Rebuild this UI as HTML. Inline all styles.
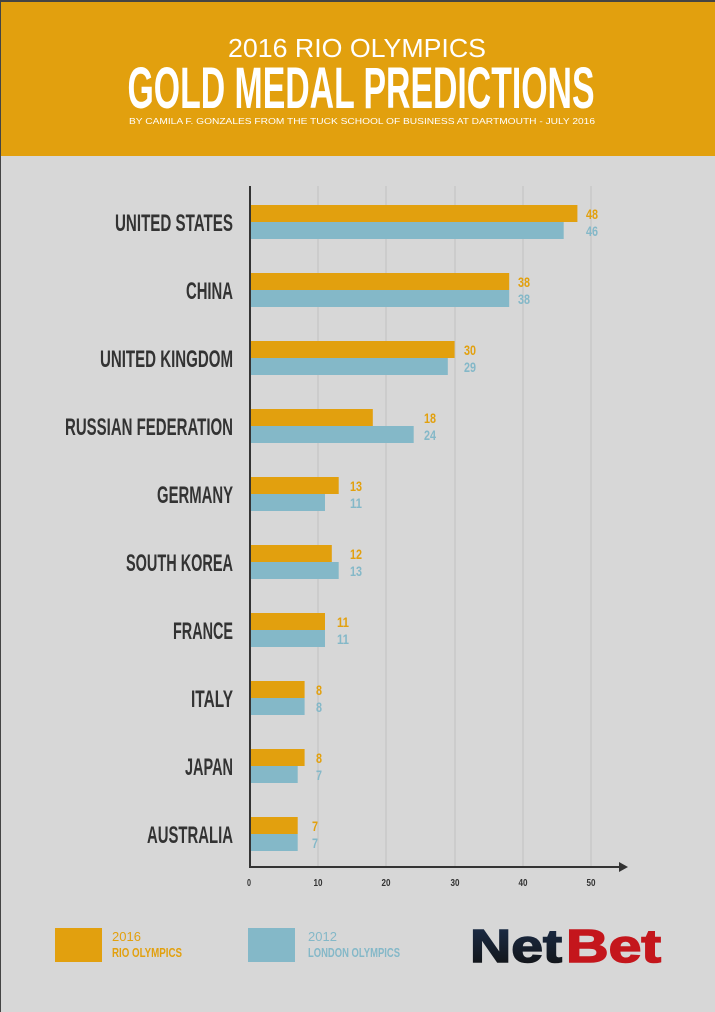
<!DOCTYPE html>
<html><head><meta charset="utf-8"><style>
html,body{margin:0;padding:0;width:715px;height:1012px;overflow:hidden;background:#d7d7d7;}
svg{display:block}
</style></head><body>
<svg width="715" height="1012" xmlns="http://www.w3.org/2000/svg">
<rect width="715" height="1012" fill="#d7d7d7"/>
<rect x="0" y="0" width="715" height="156" fill="#e2a00e"/>
<rect x="0" y="0" width="715" height="2" fill="#444"/>
<rect x="0" y="0" width="1" height="1012" fill="#444"/>
<text x="357" y="57" text-anchor="middle" font-family="Liberation Sans, sans-serif" font-size="26" fill="#fff" textLength="258" lengthAdjust="spacingAndGlyphs">2016 RIO OLYMPICS</text>
<text x="361" y="108" text-anchor="middle" font-family="Liberation Sans Narrow, Liberation Sans, sans-serif" font-weight="bold" font-size="58" fill="#fff" textLength="467" lengthAdjust="spacingAndGlyphs">GOLD MEDAL PREDICTIONS</text>
<text x="362" y="124" text-anchor="middle" font-family="Liberation Sans, sans-serif" font-size="8.5" fill="#fff" textLength="466" lengthAdjust="spacingAndGlyphs">BY CAMILA F. GONZALES FROM THE TUCK SCHOOL OF BUSINESS AT DARTMOUTH - JULY 2016</text>
<g stroke="#c8c8c8" stroke-width="1.5">
<line x1="318" y1="186" x2="318" y2="867"/><line x1="386" y1="186" x2="386" y2="867"/><line x1="455" y1="186" x2="455" y2="867"/><line x1="523" y1="186" x2="523" y2="867"/><line x1="591" y1="186" x2="591" y2="867"/>
</g>
<g font-family="Liberation Sans Narrow, Liberation Sans, sans-serif" font-weight="bold" font-size="24" fill="#333" text-anchor="end">
<text x="233" y="231" textLength="118" lengthAdjust="spacingAndGlyphs">UNITED STATES</text>
<text x="233" y="299" textLength="47" lengthAdjust="spacingAndGlyphs">CHINA</text>
<text x="233" y="367" textLength="133" lengthAdjust="spacingAndGlyphs">UNITED KINGDOM</text>
<text x="233" y="435" textLength="168" lengthAdjust="spacingAndGlyphs">RUSSIAN FEDERATION</text>
<text x="233" y="503" textLength="76" lengthAdjust="spacingAndGlyphs">GERMANY</text>
<text x="233" y="571" textLength="107" lengthAdjust="spacingAndGlyphs">SOUTH KOREA</text>
<text x="233" y="639" textLength="60" lengthAdjust="spacingAndGlyphs">FRANCE</text>
<text x="233" y="707" textLength="42" lengthAdjust="spacingAndGlyphs">ITALY</text>
<text x="233" y="775" textLength="48" lengthAdjust="spacingAndGlyphs">JAPAN</text>
<text x="233" y="843" textLength="86" lengthAdjust="spacingAndGlyphs">AUSTRALIA</text>
</g>
<g font-family="Liberation Sans Narrow, Liberation Sans, sans-serif" font-weight="bold" font-size="14">
<rect x="250" y="205" width="327.4" height="17" fill="#e2a00e"/><rect x="250" y="222" width="313.7" height="17" fill="#84b8c8"/>
<text x="586" y="219" fill="#e2a00e" textLength="12" lengthAdjust="spacingAndGlyphs">48</text><text x="586" y="236" fill="#84b8c8" textLength="12" lengthAdjust="spacingAndGlyphs">46</text>
<rect x="250" y="273" width="259.2" height="17" fill="#e2a00e"/><rect x="250" y="290" width="259.2" height="17" fill="#84b8c8"/>
<text x="518" y="287" fill="#e2a00e" textLength="12" lengthAdjust="spacingAndGlyphs">38</text><text x="518" y="304" fill="#84b8c8" textLength="12" lengthAdjust="spacingAndGlyphs">38</text>
<rect x="250" y="341" width="204.6" height="17" fill="#e2a00e"/><rect x="250" y="358" width="197.8" height="17" fill="#84b8c8"/>
<text x="464" y="355" fill="#e2a00e" textLength="12" lengthAdjust="spacingAndGlyphs">30</text><text x="464" y="372" fill="#84b8c8" textLength="12" lengthAdjust="spacingAndGlyphs">29</text>
<rect x="250" y="409" width="122.8" height="17" fill="#e2a00e"/><rect x="250" y="426" width="163.7" height="17" fill="#84b8c8"/>
<text x="424" y="423" fill="#e2a00e" textLength="12" lengthAdjust="spacingAndGlyphs">18</text><text x="424" y="440" fill="#84b8c8" textLength="12" lengthAdjust="spacingAndGlyphs">24</text>
<rect x="250" y="477" width="88.7" height="17" fill="#e2a00e"/><rect x="250" y="494" width="75" height="17" fill="#84b8c8"/>
<text x="350" y="491" fill="#e2a00e" textLength="12" lengthAdjust="spacingAndGlyphs">13</text><text x="350" y="508" fill="#84b8c8" textLength="12" lengthAdjust="spacingAndGlyphs">11</text>
<rect x="250" y="545" width="81.8" height="17" fill="#e2a00e"/><rect x="250" y="562" width="88.7" height="17" fill="#84b8c8"/>
<text x="350" y="559" fill="#e2a00e" textLength="12" lengthAdjust="spacingAndGlyphs">12</text><text x="350" y="576" fill="#84b8c8" textLength="12" lengthAdjust="spacingAndGlyphs">13</text>
<rect x="250" y="613" width="75" height="17" fill="#e2a00e"/><rect x="250" y="630" width="75" height="17" fill="#84b8c8"/>
<text x="337" y="627" fill="#e2a00e" textLength="12" lengthAdjust="spacingAndGlyphs">11</text><text x="337" y="644" fill="#84b8c8" textLength="12" lengthAdjust="spacingAndGlyphs">11</text>
<rect x="250" y="681" width="54.6" height="17" fill="#e2a00e"/><rect x="250" y="698" width="54.6" height="17" fill="#84b8c8"/>
<text x="316" y="695" fill="#e2a00e" textLength="6" lengthAdjust="spacingAndGlyphs">8</text><text x="316" y="712" fill="#84b8c8" textLength="6" lengthAdjust="spacingAndGlyphs">8</text>
<rect x="250" y="749" width="54.6" height="17" fill="#e2a00e"/><rect x="250" y="766" width="47.7" height="17" fill="#84b8c8"/>
<text x="316" y="763" fill="#e2a00e" textLength="6" lengthAdjust="spacingAndGlyphs">8</text><text x="316" y="780" fill="#84b8c8" textLength="6" lengthAdjust="spacingAndGlyphs">7</text>
<rect x="250" y="817" width="47.7" height="17" fill="#e2a00e"/><rect x="250" y="834" width="47.7" height="17" fill="#84b8c8"/>
<text x="312" y="831" fill="#e2a00e" textLength="6" lengthAdjust="spacingAndGlyphs">7</text><text x="312" y="848" fill="#84b8c8" textLength="6" lengthAdjust="spacingAndGlyphs">7</text>
</g>
<line x1="250" y1="186" x2="250" y2="868" stroke="#333" stroke-width="2"/>
<line x1="249" y1="867" x2="620" y2="867" stroke="#333" stroke-width="2"/>
<polygon points="619,862 628,867 619,872" fill="#333"/>
<g font-family="Liberation Sans Narrow, Liberation Sans, sans-serif" font-weight="bold" font-size="10" fill="#333" text-anchor="middle">
<text x="249" y="886" textLength="4" lengthAdjust="spacingAndGlyphs">0</text><text x="318" y="886" textLength="9" lengthAdjust="spacingAndGlyphs">10</text><text x="386" y="886" textLength="9" lengthAdjust="spacingAndGlyphs">20</text><text x="455" y="886" textLength="9" lengthAdjust="spacingAndGlyphs">30</text><text x="523" y="886" textLength="9" lengthAdjust="spacingAndGlyphs">40</text><text x="591" y="886" textLength="9" lengthAdjust="spacingAndGlyphs">50</text>
</g>
<rect x="55" y="928" width="47" height="34" fill="#e2a00e"/>
<text x="112" y="941" font-family="Liberation Sans, sans-serif" font-size="13" fill="#e2a00e">2016</text>
<text x="112" y="957" font-family="Liberation Sans Narrow, Liberation Sans, sans-serif" font-weight="bold" font-size="13" fill="#e2a00e" textLength="70" lengthAdjust="spacingAndGlyphs">RIO OLYMPICS</text>
<rect x="248" y="928" width="47" height="34" fill="#84b8c8"/>
<text x="308" y="941" font-family="Liberation Sans, sans-serif" font-size="13" fill="#84b8c8">2012</text>
<text x="308" y="957" font-family="Liberation Sans Narrow, Liberation Sans, sans-serif" font-weight="bold" font-size="13" fill="#84b8c8" textLength="92" lengthAdjust="spacingAndGlyphs">LONDON OLYMPICS</text>
<defs><linearGradient id="ng" x1="0" y1="0" x2="0" y2="1"><stop offset="0" stop-color="#1c2f4d"/><stop offset="1" stop-color="#111"/></linearGradient></defs>
<text x="470" y="962" font-family="Liberation Sans, sans-serif" font-weight="bold" font-size="46" fill="url(#ng)" stroke="url(#ng)" stroke-width="1.5" textLength="92" lengthAdjust="spacingAndGlyphs">Net</text>
<text x="566" y="962" font-family="Liberation Sans, sans-serif" font-weight="bold" font-size="46" fill="#c4161c" stroke="#c4161c" stroke-width="1.5" textLength="95" lengthAdjust="spacingAndGlyphs">Bet</text>
</svg>
</body></html>
